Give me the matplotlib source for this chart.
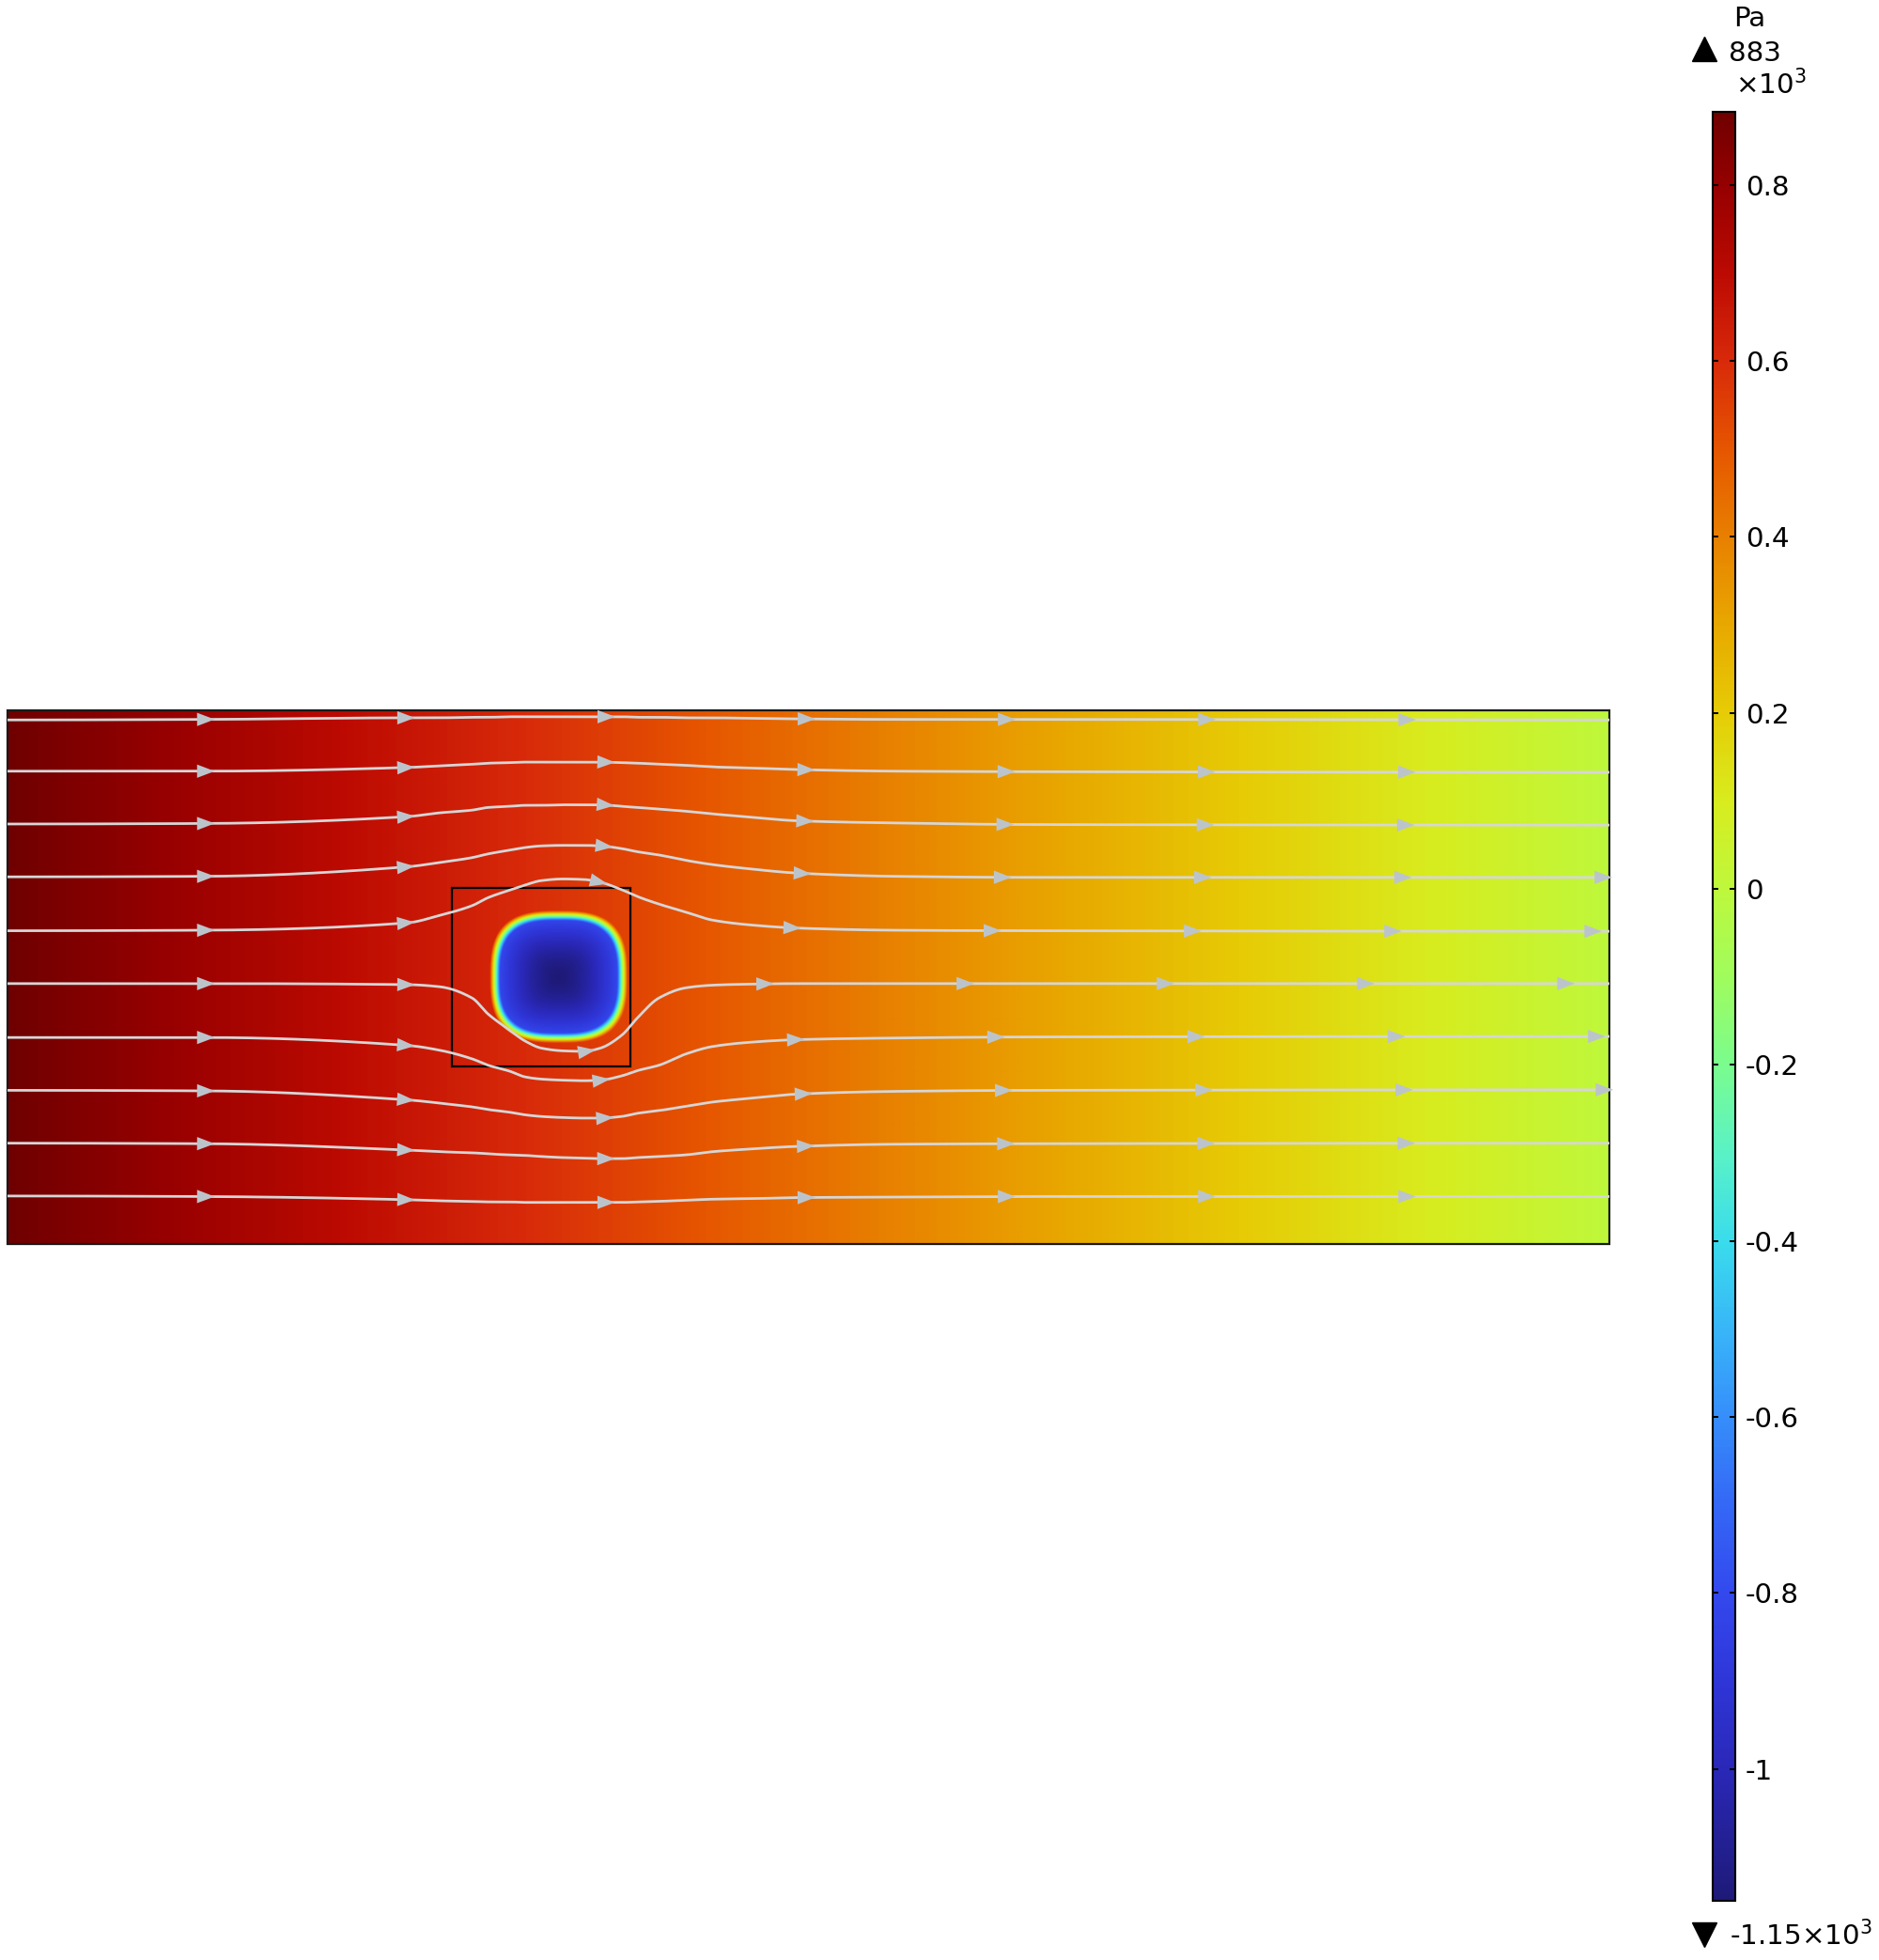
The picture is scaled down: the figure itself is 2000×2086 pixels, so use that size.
import numpy as np
import matplotlib
matplotlib.use("Agg")
import matplotlib.pyplot as plt
from matplotlib.colors import LinearSegmentedColormap, Normalize
from matplotlib.patches import Rectangle, Polygon
from matplotlib.lines import Line2D

# ---------------- data ----------------
# pressure field (units: 10^3 Pa)
p_max = 0.883
p_min = -1.15
p_inlet = 0.883
p_outlet = 0.0
domain_length = 3.0
domain_height = 1.0
obstacle_box = [0.833, 0.333, 0.334, 0.334]          # x0, y0, w, h of design square
blob_center = [1.032, 0.500]
blob_half = [0.129, 0.124]
blob_exponent = 2.9
blob_edge_pressure = -0.72
blob_edge_width = 0.15

colorbar_ticks = [0.8, 0.6, 0.4, 0.2, 0.0, -0.2, -0.4, -0.6, -0.8, -1.0]
colorbar_ticklabels = ["0.8", "0.6", "0.4", "0.2", "0", "-0.2", "-0.4", "-0.6", "-0.8", "-1"]

cmap_values = [-1.15, -1.0, -0.9, -0.8, -0.7, -0.6, -0.5, -0.4, -0.3, -0.2, -0.1,
               0.0, 0.1, 0.2, 0.3, 0.4, 0.5, 0.6, 0.7, 0.8, 0.883]
cmap_colors = ['#1e1a78', '#2a28b8', '#2f36d8', '#3349ee', '#3468f6', '#368efa',
               '#38b6f8', '#3adcec', '#5af2c6', '#7afc8e', '#a0fc5c', '#bef83c',
               '#d8ec1e', '#e6cc06', '#e8a800', '#e88000', '#e65600', '#d82a0a',
               '#bc0a02', '#960000', '#700000']

# streamlines (x stations shared, y per line)
stream_x = [0.0, 0.37, 0.75, 0.81, 0.87, 0.90, 0.94, 0.97, 1.0, 1.04, 1.08, 1.11,
            1.15, 1.18, 1.22, 1.27, 1.32, 1.39, 1.48, 1.66, 1.92, 3.0]
stream_y1 = [0.982, 0.983, 0.986, 0.986, 0.987, 0.987, 0.988, 0.988, 0.988, 0.988, 0.988,
             0.988, 0.988, 0.987, 0.987, 0.986, 0.986, 0.985, 0.984, 0.983, 0.983, 0.982]
stream_y2 = [0.886, 0.886, 0.893, 0.896, 0.899, 0.901, 0.902, 0.903, 0.903, 0.903, 0.903,
             0.903, 0.902, 0.901, 0.899, 0.897, 0.894, 0.892, 0.889, 0.886, 0.885, 0.884]
stream_y3 = [0.787, 0.788, 0.801, 0.808, 0.813, 0.818, 0.820, 0.822, 0.822, 0.823, 0.823,
             0.823, 0.820, 0.818, 0.815, 0.811, 0.806, 0.800, 0.793, 0.789, 0.786, 0.785]
stream_y4 = [0.688, 0.689, 0.707, 0.715, 0.724, 0.731, 0.738, 0.743, 0.746, 0.747, 0.747,
             0.746, 0.741, 0.735, 0.729, 0.719, 0.711, 0.703, 0.695, 0.689, 0.687, 0.687]
stream_y5 = [0.587, 0.588, 0.602, 0.616, 0.634, 0.649, 0.663, 0.673, 0.681, 0.684, 0.683,
             0.678, 0.664, 0.651, 0.637, 0.622, 0.607, 0.598, 0.592, 0.588, 0.587, 0.586]
stream_y6 = [0.488, 0.488, 0.486, 0.482, 0.461, 0.431, 0.401, 0.380, 0.367, 0.362, 0.361,
             0.367, 0.391, 0.424, 0.461, 0.480, 0.485, 0.487, 0.488, 0.488, 0.488, 0.488]
stream_y7 = [0.387, 0.387, 0.372, 0.363, 0.347, 0.335, 0.324, 0.313, 0.309, 0.307, 0.306,
             0.307, 0.315, 0.325, 0.335, 0.356, 0.370, 0.378, 0.383, 0.386, 0.388, 0.389]
stream_y8 = [0.288, 0.287, 0.270, 0.264, 0.257, 0.252, 0.247, 0.242, 0.239, 0.237, 0.236,
             0.236, 0.239, 0.245, 0.250, 0.258, 0.266, 0.273, 0.281, 0.286, 0.288, 0.289]
stream_y9 = [0.189, 0.188, 0.176, 0.173, 0.171, 0.169, 0.167, 0.166, 0.164, 0.162, 0.161,
             0.160, 0.160, 0.162, 0.164, 0.167, 0.173, 0.178, 0.183, 0.187, 0.188, 0.189]
stream_y10 = [0.090, 0.089, 0.083, 0.081, 0.080, 0.079, 0.079, 0.078, 0.078, 0.078, 0.078,
              0.078, 0.078, 0.079, 0.080, 0.082, 0.084, 0.085, 0.087, 0.088, 0.089, 0.089]
stream_lines = [stream_y1, stream_y2, stream_y3, stream_y4, stream_y5,
                stream_y6, stream_y7, stream_y8, stream_y9, stream_y10]
arrow_spacing = 0.375
arrow_counts = [7, 7, 7, 8, 8, 8, 8, 8, 7, 7]

# ---------------- figure ----------------
W, H = 2000, 2086
fig = plt.figure(figsize=(W / 100, H / 100), dpi=100)
fig.patch.set_facecolor("white")

def fx(px):
    return px / W

def fy(py):
    return 1 - py / H

ax = fig.add_axes([fx(8), fy(1324), (1713 - 8) / W, (1324 - 756) / H])
ax.set_xlim(0, domain_length)
ax.set_ylim(0, domain_height)
ax.axis("off")

cmap = LinearSegmentedColormap.from_list(
    "comsol_rainbow",
    list(zip([(v - p_min) / (p_max - p_min) for v in cmap_values], cmap_colors)), N=512)
norm = Normalize(vmin=p_min, vmax=p_max)

# pressure field
nx, ny = 1800, 600
xg = np.linspace(0, domain_length, nx)
yg = np.linspace(0, domain_height, ny)
X, Y = np.meshgrid(xg, yg)
p_bg = p_inlet + (p_outlet - p_inlet) * X / domain_length
r = ((np.abs(X - blob_center[0]) / blob_half[0]) ** blob_exponent +
     (np.abs(Y - blob_center[1]) / blob_half[1]) ** blob_exponent) ** (1 / blob_exponent)
p_inside = p_min + (blob_edge_pressure - p_min) * np.clip(r, 0, 1) ** 1.6
t = np.clip((r - (1 - blob_edge_width)) / blob_edge_width, 0, 1)
P = p_inside * (1 - t) + p_bg * t
ax.imshow(P, origin="lower", extent=[0, domain_length, 0, domain_height],
          cmap=cmap, norm=norm, interpolation="bilinear", aspect="auto", zorder=1)

# borders
ax.add_patch(Rectangle((0, 0), domain_length, domain_height, fill=False,
                       edgecolor="#1a1a1a", lw=1.6, zorder=5, clip_on=False))
ax.add_patch(Rectangle((obstacle_box[0], obstacle_box[1]), obstacle_box[2], obstacle_box[3],
                       fill=False, edgecolor="black", lw=1.6, zorder=3))

# streamlines: shape-preserving cubic (PCHIP) through the read stations
def pchip_curve(xs, ys, n=6000):
    xs = np.asarray(xs, float)
    ys = np.asarray(ys, float)
    h = np.diff(xs)
    d = np.diff(ys) / h
    m = np.zeros_like(ys)
    for k in range(1, len(xs) - 1):
        if d[k - 1] * d[k] > 0:
            w1 = 2 * h[k] + h[k - 1]
            w2 = h[k] + 2 * h[k - 1]
            m[k] = (w1 + w2) / (w1 / d[k - 1] + w2 / d[k])
    xd = np.linspace(xs[0], xs[-1], n)
    idx = np.clip(np.searchsorted(xs, xd, side="right") - 1, 0, len(xs) - 2)
    hh = h[idx]
    tt = (xd - xs[idx]) / hh
    h00 = 2 * tt ** 3 - 3 * tt ** 2 + 1
    h10 = tt ** 3 - 2 * tt ** 2 + tt
    h01 = -2 * tt ** 3 + 3 * tt ** 2
    h11 = tt ** 3 - tt ** 2
    yd = h00 * ys[idx] + h10 * hh * m[idx] + h01 * ys[idx + 1] + h11 * hh * m[idx + 1]
    return xd, yd

line_color = "#d6d6d6"
arrow_color = "#bcc4cb"
a_back, a_front, a_half = 0.020, 0.013, 0.0125
for ys, cnt in zip(stream_lines, arrow_counts):
    xd, yd = pchip_curve(stream_x, ys)
    ax.plot(xd, yd, color=line_color, lw=2.0, zorder=6, solid_capstyle="butt")
    ds = np.hypot(np.diff(xd), np.diff(yd))
    s = np.concatenate([[0], np.cumsum(ds)])
    L = s[-1]
    for k in range(1, cnt + 1):
        sk = min(k * arrow_spacing, L)
        px = np.interp(sk, s, xd)
        py = np.interp(sk, s, yd)
        i = np.clip(np.searchsorted(s, sk), 1, len(s) - 1)
        dx, dy = xd[i] - xd[i - 1], yd[i] - yd[i - 1]
        nrm = np.hypot(dx, dy)
        ux, uy = dx / nrm, dy / nrm
        vx, vy = -uy, ux
        tip = (px + ux * a_front, py + uy * a_front)
        bx, by = px - ux * a_back, py - uy * a_back
        tri = [tip, (bx + vx * a_half, by + vy * a_half), (bx - vx * a_half, by - vy * a_half)]
        ax.add_patch(Polygon(tri, closed=True, facecolor=arrow_color, edgecolor="none",
                             zorder=7, clip_on=False))

# colorbar
fs = 21.2
cax = fig.add_axes([fx(1823), fy(2023), (1847 - 1823) / W, (2023 - 119) / H])
sm = matplotlib.cm.ScalarMappable(norm=norm, cmap=cmap)
cb = fig.colorbar(sm, cax=cax, orientation="vertical")
cb.outline.set_linewidth(1.5)
cb.outline.set_edgecolor("black")
cb.set_ticks(colorbar_ticks)
cb.set_ticklabels(colorbar_ticklabels)
cax.tick_params(axis="y", which="both", left=True, right=True, direction="in",
                length=4, width=1.4, labelsize=fs, pad=8, labelcolor="black")
cax.minorticks_off()

fig.text(fx(1845), fy(28), "Pa", fontsize=fs, va="baseline", ha="left")
fig.text(fx(1840), fy(65), "883", fontsize=fs, va="baseline", ha="left")
fig.text(fx(1847), fy(100), r"×10$^{3}$", fontsize=fs, va="baseline", ha="left")
fig.text(fx(1841), fy(2070), r"-1.15×10$^{3}$", fontsize=fs, va="baseline", ha="left")
fig.add_artist(Line2D([fx(1814)], [fy(52)], marker="^", markersize=19, color="black",
                      linestyle="none", transform=fig.transFigure))
fig.add_artist(Line2D([fx(1814)], [fy(2059)], marker="v", markersize=19, color="black",
                      linestyle="none", transform=fig.transFigure))

fig.savefig("out.png", dpi=100, facecolor="white")
